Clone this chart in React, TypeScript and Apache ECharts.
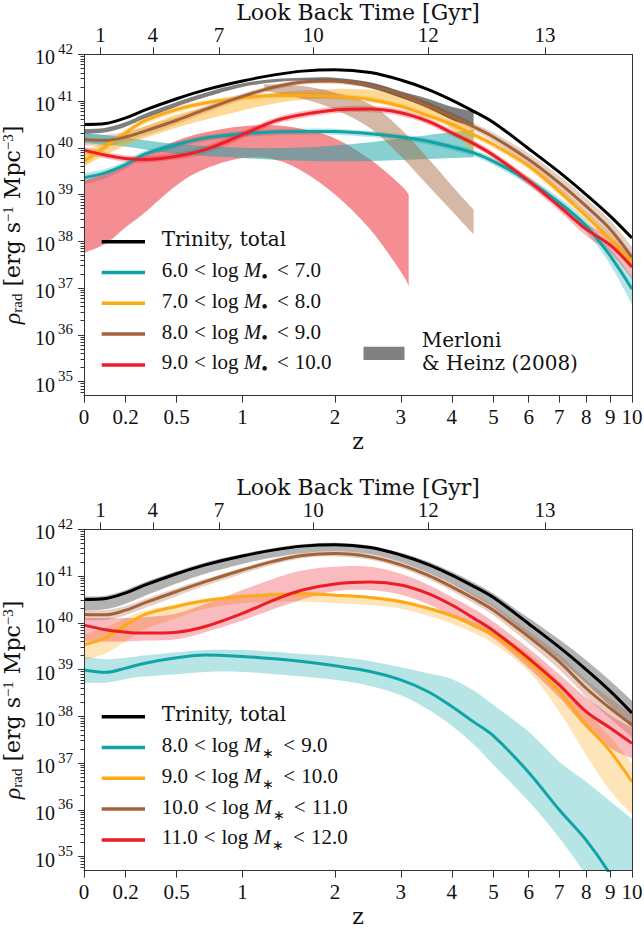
import React, { useEffect, useRef } from 'react';
import * as echarts from 'echarts';

// ---------- axis ticks ----------
const X_TICKS = [0, 0.2, 0.5, 1, 2, 3, 4, 5, 6, 7, 8, 9, 10];
const X_TICK_LABELS = ['0', '0.2', '0.5', '1', '2', '3', '4', '5', '6', '7', '8', '9', '10'];
const LBT_Z = [0.075, 0.351, 0.805, 1.728, 3.51, 6.52];
const LBT_LABELS = ['1', '4', '7', '10', '12', '13'];
const Y_DECADES = [35, 36, 37, 38, 39, 40, 41, 42];

// ---------- data: log10(rho_rad) ----------
const Z = [0, 0.1, 0.2, 0.3, 0.5, 0.7, 1, 1.3, 1.6, 2, 2.5, 3, 3.5, 4, 4.5, 5, 6, 7, 8, 9, 10];

const TOTAL = [40.50, 40.52, 40.64, 40.80, 41.05, 41.24, 41.43, 41.56, 41.64, 41.67, 41.61, 41.45, 41.25, 41.02, 40.78, 40.54, 39.98, 39.48, 39.00, 38.54, 38.07];
const TOTAL_LO = [40.27, 40.29, 40.41, 40.57, 40.84, 41.05, 41.26, 41.40, 41.49, 41.53, 41.47, 41.30, 41.08, 40.84, 40.58, 40.33, 39.74, 39.22, 38.70, 38.22, 37.75];
const TOTAL_HI = [40.56, 40.58, 40.70, 40.86, 41.10, 41.29, 41.47, 41.60, 41.68, 41.71, 41.65, 41.50, 41.31, 41.09, 40.86, 40.62, 40.10, 39.64, 39.20, 38.76, 38.33];

// top panel: black hole mass bins
const BH6 = [39.36, 39.47, 39.64, 39.86, 40.07, 40.21, 40.30, 40.34, 40.35, 40.35, 40.30, 40.23, 40.14, 40.02, 39.89, 39.71, 39.29, 38.83, 38.33, 37.69, 36.98];
const BH6_LO = [39.22, 39.35, 39.55, 39.78, 40.00, 40.14, 40.23, 40.27, 40.28, 40.28, 40.23, 40.16, 40.07, 39.95, 39.82, 39.63, 39.20, 38.73, 38.20, 37.50, 36.65];
const BH6_HI = [39.45, 39.55, 39.72, 39.93, 40.13, 40.27, 40.36, 40.40, 40.41, 40.41, 40.36, 40.29, 40.20, 40.08, 39.96, 39.78, 39.37, 38.93, 38.45, 37.85, 37.25];

const BH7 = [39.71, 40.03, 40.32, 40.57, 40.82, 40.96, 41.07, 41.12, 41.12, 41.10, 41.03, 40.89, 40.69, 40.50, 40.28, 40.07, 39.61, 39.07, 38.54, 38.04, 37.55];
const BH7_LO = [39.62, 39.95, 40.25, 40.50, 40.75, 40.90, 41.01, 41.06, 41.06, 41.04, 40.97, 40.83, 40.63, 40.43, 40.21, 40.00, 39.53, 38.98, 38.44, 37.92, 37.40];
const BH7_HI = [39.80, 40.11, 40.39, 40.64, 40.88, 41.02, 41.13, 41.18, 41.18, 41.16, 41.09, 40.95, 40.75, 40.57, 40.35, 40.14, 39.69, 39.16, 38.64, 38.18, 37.72];

const BH8 = [40.18, 40.16, 40.23, 40.35, 40.59, 40.82, 41.10, 41.30, 41.41, 41.43, 41.33, 41.14, 40.90, 40.67, 40.45, 40.23, 39.75, 39.25, 38.75, 38.26, 37.66];
const BH8_LO = [40.05, 40.05, 40.12, 40.25, 40.50, 40.74, 41.03, 41.24, 41.35, 41.37, 41.27, 41.07, 40.83, 40.60, 40.37, 40.14, 39.63, 39.10, 38.58, 38.05, 37.45];
const BH8_HI = [40.30, 40.28, 40.33, 40.45, 40.67, 40.89, 41.16, 41.35, 41.46, 41.48, 41.39, 41.20, 40.97, 40.75, 40.53, 40.32, 39.88, 39.40, 38.92, 38.45, 37.88];

const BH9 = [39.95, 39.84, 39.77, 39.75, 39.82, 39.96, 40.28, 40.57, 40.71, 40.81, 40.83, 40.75, 40.57, 40.32, 40.09, 39.84, 39.29, 38.75, 38.26, 37.92, 37.45];
const BH9_LO = [39.88, 39.77, 39.70, 39.68, 39.75, 39.88, 40.20, 40.50, 40.64, 40.74, 40.76, 40.68, 40.50, 40.25, 40.02, 39.77, 39.20, 38.65, 38.12, 37.75, 37.20];
const BH9_HI = [40.02, 39.91, 39.84, 39.82, 39.90, 40.04, 40.36, 40.64, 40.78, 40.88, 40.90, 40.82, 40.64, 40.39, 40.16, 39.91, 39.38, 38.85, 38.38, 38.08, 37.65];

// Merloni & Heinz (2008) bands
const MH_TOT_Z = [0, 0.1, 0.2, 0.3, 0.5, 0.7, 1, 1.3, 1.6, 2, 2.5, 3, 3.5, 4, 4.5];
const MH_TOT_LO = [40.30, 40.33, 40.45, 40.62, 40.88, 41.08, 41.30, 41.40, 41.44, 41.40, 41.28, 41.07, 40.85, 40.60, 40.45];
const MH_TOT_HI = [40.40, 40.43, 40.55, 40.72, 40.98, 41.18, 41.38, 41.47, 41.50, 41.50, 41.40, 41.21, 41.05, 40.88, 40.78];

const MH_BH6_Z = [0, 0.2, 0.5, 1, 1.5, 2, 2.5, 3, 3.5, 4, 4.5];
const MH_BH6_LO = [40.10, 40.02, 39.87, 39.78, 39.73, 39.71, 39.72, 39.74, 39.76, 39.78, 39.80];
const MH_BH6_HI = [40.32, 40.22, 40.08, 40.00, 40.00, 40.05, 40.12, 40.20, 40.27, 40.33, 40.39];

const MH_BH7_Z = [0, 0.1, 0.2, 0.3, 0.5, 0.7, 1, 1.3, 1.6, 2, 2.5, 3, 3.5, 4, 4.5];
const MH_BH7_LO = [39.60, 39.85, 40.05, 40.20, 40.43, 40.60, 40.80, 40.95, 41.03, 41.06, 41.02, 40.92, 40.72, 40.40, 39.85];
const MH_BH7_HI = [39.95, 40.12, 40.30, 40.45, 40.71, 40.88, 41.05, 41.17, 41.23, 41.26, 41.24, 41.15, 40.98, 40.72, 40.42];

const MH_BH8_Z = [1.2, 1.6, 2, 2.5, 3, 3.5, 4, 4.5];
const MH_BH8_LO = [41.22, 41.05, 40.82, 40.42, 39.82, 39.20, 38.65, 38.15];
const MH_BH8_HI = [41.36, 41.32, 41.18, 40.93, 40.40, 39.78, 39.19, 38.68];

const MH_BH9_Z = [0, 0.1, 0.2, 0.3, 0.5, 0.7, 1, 1.3, 1.6, 2, 2.5, 3, 3.14];
const MH_BH9_LO = [37.75, 37.95, 38.30, 38.60, 39.20, 39.55, 39.78, 39.75, 39.50, 39.00, 38.25, 37.35, 37.05];
const MH_BH9_HI = [39.30, 39.45, 39.65, 39.85, 40.15, 40.33, 40.46, 40.48, 40.40, 40.20, 39.75, 39.20, 39.00];

// bottom panel: stellar mass bins
const MS8 = [38.99, 38.94, 39.03, 39.13, 39.25, 39.31, 39.28, 39.23, 39.17, 39.08, 38.96, 38.78, 38.53, 38.21, 37.88, 37.58, 36.80, 36.00, 35.35, 34.62, 33.80];
const MS8_LO = [38.72, 38.72, 38.80, 38.85, 38.90, 38.95, 38.95, 38.90, 38.85, 38.78, 38.65, 38.45, 38.15, 37.80, 37.40, 36.96, 36.18, 35.40, 34.60, 33.80, 33.00];
const MS8_HI = [39.28, 39.22, 39.25, 39.30, 39.37, 39.42, 39.42, 39.38, 39.33, 39.28, 39.18, 39.05, 38.92, 38.80, 38.55, 38.24, 37.67, 37.03, 36.60, 36.18, 35.80];

const MS9 = [39.53, 39.68, 39.95, 40.17, 40.35, 40.47, 40.56, 40.60, 40.62, 40.59, 40.54, 40.45, 40.31, 40.15, 39.95, 39.74, 39.17, 38.53, 37.82, 37.25, 36.60];
const MS9_LO = [39.20, 39.35, 39.60, 39.85, 40.10, 40.30, 40.42, 40.45, 40.45, 40.42, 40.38, 40.30, 40.15, 39.98, 39.78, 39.55, 38.96, 38.10, 37.17, 36.40, 35.90];
const MS9_HI = [39.75, 39.90, 40.10, 40.25, 40.40, 40.52, 40.60, 40.63, 40.65, 40.62, 40.58, 40.50, 40.36, 40.20, 40.02, 39.82, 39.35, 38.74, 38.10, 37.55, 37.00];

const MS10 = [40.18, 40.17, 40.27, 40.42, 40.67, 40.88, 41.13, 41.32, 41.44, 41.48, 41.41, 41.24, 41.02, 40.77, 40.52, 40.27, 39.70, 39.17, 38.60, 38.17, 37.82];
const MS10_LO = [40.06, 40.06, 40.16, 40.31, 40.57, 40.79, 41.05, 41.25, 41.38, 41.42, 41.35, 41.17, 40.94, 40.68, 40.42, 40.16, 39.56, 39.00, 38.42, 37.95, 37.55];
const MS10_HI = [40.28, 40.27, 40.36, 40.50, 40.74, 40.94, 41.18, 41.37, 41.49, 41.53, 41.47, 41.30, 41.09, 40.85, 40.61, 40.37, 39.82, 39.32, 38.78, 38.38, 38.05];

const MS11 = [39.95, 39.85, 39.80, 39.78, 39.80, 39.92, 40.20, 40.49, 40.70, 40.83, 40.87, 40.81, 40.63, 40.38, 40.10, 39.83, 39.24, 38.67, 38.10, 37.75, 37.42];
const MS11_LO = [39.60, 39.60, 39.60, 39.62, 39.65, 39.80, 40.05, 40.30, 40.50, 40.68, 40.70, 40.60, 40.40, 40.15, 39.90, 39.67, 39.03, 38.40, 37.75, 37.32, 37.10];
const MS11_HI = [40.10, 40.10, 40.10, 40.12, 40.20, 40.40, 40.70, 40.95, 41.12, 41.20, 41.20, 41.05, 40.82, 40.55, 40.30, 40.02, 39.45, 38.90, 38.40, 38.03, 37.75];

// ---------- style ----------
const FONT = "'DejaVu Serif', serif";
const MFONT = "'Liberation Serif', 'Times New Roman', serif";
const TXT = '#111111';
const AX = '#333333';
const C_BLACK = '#000000';
const C_TEAL = '#10a4a7';
const C_ORANGE = '#fdaa16';
const C_BROWN = '#a4623a';
const C_RED = '#eb1d27';

const lx = (z: number) => Math.log10(1 + z);
const XMAX = lx(10);
const YMIN = Math.log10(5e34);
const YMAX = 42;
const GRID_TOP = [54.3, 529.3];
const GRID_LEFT = 84;
const GRID_W = 548;
const GRID_H = 341.3;

const MINOR: number[] = [];
for (let n = 34; n < 42; n++) {
  for (let k = 2; k <= 9; k++) {
    const v = n + Math.log10(k);
    if (v > YMIN && v < YMAX) MINOR.push(v);
  }
}

// smooth band outline shape (Catmull-Rom through the screen points)
function curveThrough(ctx: any, pts: number[][]) {
  const t = 1 / 6;
  for (let i = 0; i < pts.length - 1; i++) {
    const p0 = pts[i - 1] || pts[i];
    const p1 = pts[i];
    const p2 = pts[i + 1];
    const p3 = pts[i + 2] || p2;
    ctx.bezierCurveTo(
      p1[0] + (p2[0] - p0[0]) * t, p1[1] + (p2[1] - p0[1]) * t,
      p2[0] - (p3[0] - p1[0]) * t, p2[1] - (p3[1] - p1[1]) * t,
      p2[0], p2[1],
    );
  }
}
const BandShape = (echarts as any).graphic.extendShape({
  shape: { up: [], dn: [] },
  buildPath(ctx: any, shape: any) {
    const up = shape.up;
    const dn = shape.dn;
    if (!up || !up.length) return;
    ctx.moveTo(up[0][0], up[0][1]);
    curveThrough(ctx, up);
    ctx.lineTo(dn[0][0], dn[0][1]);
    curveThrough(ctx, dn);
    ctx.closePath();
  },
});
(echarts as any).graphic.registerShape('bandShape', BandShape);

function nearestLabel(v: number, vals: number[], labels: string[]) {
  let best = 0;
  let bd = Infinity;
  vals.forEach((t, i) => {
    const d = Math.abs(lx(t) - v);
    if (d < bd) { bd = d; best = i; }
  });
  return labels[best];
}

function lineS(p: number, zs: number[], ys: number[], color: string, zz: number) {
  return {
    type: 'line', xAxisIndex: p * 2, yAxisIndex: p * 3,
    data: zs.map((z, i) => [lx(z), ys[i]]),
    smooth: 0.35, symbol: 'none', silent: true, z: zz,
    lineStyle: { color, width: 3 },
  };
}

function bandS(p: number, zs: number[], lo: number[], hi: number[], color: string, op: number, zz: number) {
  return {
    type: 'custom', xAxisIndex: p * 2, yAxisIndex: p * 3, clip: true, silent: true, z: zz,
    data: [[lx(zs[0]), lo[0]]],
    renderItem: (_params: any, api: any) => {
      const up = zs.map((z, i) => api.coord([lx(z), hi[i]]));
      const dn = zs.map((z, i) => api.coord([lx(z), lo[i]])).reverse();
      return {
        type: 'bandShape',
        shape: { up, dn },
        style: { fill: color, opacity: op, stroke: 'none' },
      };
    },
  };
}

const tickLine = { color: AX, width: 1 };

function xAxes(p: number) {
  return [
    {
      gridIndex: p, type: 'value', position: 'bottom', min: 0, max: XMAX, z: 10,
      axisLine: { show: true, onZero: false, lineStyle: tickLine },
      axisTick: { show: true, customValues: X_TICKS.map(lx), length: 7, lineStyle: tickLine },
      axisLabel: {
        show: true, customValues: X_TICKS.map(lx), margin: 11,
        formatter: (v: number) => nearestLabel(v, X_TICKS, X_TICK_LABELS),
        fontFamily: MFONT, fontSize: 21, color: TXT,
      },
      splitLine: { show: false },
      name: 'z', nameLocation: 'middle', nameGap: 35,
      nameTextStyle: { fontFamily: FONT, fontSize: 22, color: TXT },
    },
    {
      gridIndex: p, type: 'value', position: 'top', min: 0, max: XMAX, z: 10,
      axisLine: { show: true, onZero: false, lineStyle: tickLine },
      axisTick: { show: true, customValues: LBT_Z.map(lx), length: 7, lineStyle: tickLine },
      axisLabel: {
        show: true, customValues: LBT_Z.map(lx), margin: 9,
        formatter: (v: number) => nearestLabel(v, LBT_Z, LBT_LABELS),
        fontFamily: MFONT, fontSize: 21, color: TXT,
      },
      splitLine: { show: false },
      name: 'Look Back Time [Gyr]', nameLocation: 'middle', nameGap: 31,
      nameTextStyle: { fontFamily: FONT, fontSize: 22, lineHeight: 22, color: TXT },
    },
  ];
}

function yAxes(p: number) {
  return [
    {
      gridIndex: p, type: 'value', position: 'left', min: YMIN, max: YMAX, z: 10,
      axisLine: { show: true, onZero: false, lineStyle: tickLine },
      axisTick: { show: true, customValues: Y_DECADES, length: 6, lineStyle: tickLine },
      axisLabel: {
        show: true, customValues: Y_DECADES, margin: 11,
        formatter: (v: number) => `{b|10}{e|${Math.round(v)}}`,
        rich: {
          b: { fontFamily: MFONT, fontSize: 20, lineHeight: 26, verticalAlign: 'bottom', color: TXT },
          e: { fontFamily: MFONT, fontSize: 15, lineHeight: 15, verticalAlign: 'top', color: TXT, padding: [0, 0, 0, 3] },
        },
      },
      splitLine: { show: false },
      name: '{r|ρ}{sub|rad}{n| [erg s}{sup|−1}{n| Mpc}{sup|−3}{n|]}',
      nameLocation: 'middle', nameGap: 45, nameRotate: 90,
      nameTextStyle: {
        fontFamily: FONT, fontSize: 22, color: TXT,
        rich: {
          r: { fontFamily: MFONT, fontSize: 24, fontStyle: 'italic', lineHeight: 24, verticalAlign: 'middle', color: TXT },
          sub: { fontFamily: MFONT, fontSize: 15, lineHeight: 15, verticalAlign: 'bottom', color: TXT },
          n: { fontFamily: FONT, fontSize: 22, lineHeight: 24, verticalAlign: 'middle', color: TXT },
          sup: { fontFamily: MFONT, fontSize: 15, lineHeight: 15, verticalAlign: 'top', color: TXT },
        },
      },
    },
    {
      gridIndex: p, type: 'value', position: 'left', min: YMIN, max: YMAX, z: 10,
      axisLine: { show: false },
      axisTick: { show: true, customValues: MINOR, length: 3.5, lineStyle: tickLine },
      axisLabel: { show: false },
      splitLine: { show: false },
    },
    {
      gridIndex: p, type: 'value', position: 'right', min: YMIN, max: YMAX, z: 10,
      axisLine: { show: true, onZero: false, lineStyle: tickLine },
      axisTick: { show: false },
      axisLabel: { show: false },
      splitLine: { show: false },
    },
  ];
}

const LEG_RICH = {
  t: { fontFamily: FONT, fontSize: 20, lineHeight: 26, verticalAlign: 'top', fill: TXT },
  n: { fontFamily: MFONT, fontSize: 21, lineHeight: 26, verticalAlign: 'top', fill: TXT },
  lt: { fontFamily: MFONT, fontSize: 21, lineHeight: 26, verticalAlign: 'top', fill: TXT, padding: [0, 6, 0, 6] },
  i: { fontFamily: MFONT, fontSize: 21, fontStyle: 'italic', lineHeight: 26, verticalAlign: 'top', fill: TXT },
  s: { fontFamily: MFONT, fontSize: 19, lineHeight: 14, verticalAlign: 'bottom', fill: TXT, padding: [0, 3, 0, 0] },
  a: { fontFamily: MFONT, fontSize: 14, lineHeight: 12, verticalAlign: 'bottom', fill: TXT, padding: [0, 3, 0, 1] },
};

const TOP_LEGEND = [
  { color: C_BLACK, text: '{t|Trinity, total}' },
  { color: C_TEAL, text: '{n|6.0}{lt|<}{n|log }{i|M}{s|•}{lt|<}{n|7.0}' },
  { color: C_ORANGE, text: '{n|7.0}{lt|<}{n|log }{i|M}{s|•}{lt|<}{n|8.0}' },
  { color: C_BROWN, text: '{n|8.0}{lt|<}{n|log }{i|M}{s|•}{lt|<}{n|9.0}' },
  { color: C_RED, text: '{n|9.0}{lt|<}{n|log }{i|M}{s|•}{lt|<}{n|10.0}' },
];
const BOT_LEGEND = [
  { color: C_BLACK, text: '{t|Trinity, total}' },
  { color: C_TEAL, text: '{n|8.0}{lt|<}{n|log }{i|M}{a|∗}{lt|<}{n|9.0}' },
  { color: C_ORANGE, text: '{n|9.0}{lt|<}{n|log }{i|M}{a|∗}{lt|<}{n|10.0}' },
  { color: C_BROWN, text: '{n|10.0}{lt|<}{n|log }{i|M}{a|∗}{lt|<}{n|11.0}' },
  { color: C_RED, text: '{n|11.0}{lt|<}{n|log }{i|M}{a|∗}{lt|<}{n|12.0}' },
];

function legendGraphic(p: number, entries: { color: string; text: string }[]) {
  const y0 = GRID_TOP[p] + 187.4;
  const out: any[] = [];
  entries.forEach((e, i) => {
    const y = y0 + i * 30.8;
    out.push({
      type: 'line', z: 50, silent: true,
      shape: { x1: 101.7, y1: y, x2: 145, y2: y },
      style: { stroke: e.color, lineWidth: 3.5 },
    });
    out.push({
      type: 'text', z: 50, silent: true, x: 161.7, y,
      style: { text: e.text, rich: LEG_RICH, fill: TXT, fontFamily: FONT, fontSize: 20, align: 'left', verticalAlign: 'middle' },
    });
  });
  return out;
}

function buildOption() {
  const series: any[] = [
    // top panel: Trinity bands
    bandS(0, Z, BH6_LO, BH6_HI, C_TEAL, 0.3, 2),
    bandS(0, Z, BH7_LO, BH7_HI, C_ORANGE, 0.3, 2),
    bandS(0, Z, BH8_LO, BH8_HI, C_BROWN, 0.3, 2),
    bandS(0, Z, BH9_LO, BH9_HI, C_RED, 0.3, 2),
    // top panel: Merloni & Heinz bands
    bandS(0, MH_BH9_Z, MH_BH9_LO, MH_BH9_HI, C_RED, 0.5, 3),
    bandS(0, MH_BH6_Z, MH_BH6_LO, MH_BH6_HI, C_TEAL, 0.5, 3),
    bandS(0, MH_BH7_Z, MH_BH7_LO, MH_BH7_HI, C_ORANGE, 0.45, 3),
    bandS(0, MH_BH8_Z, MH_BH8_LO, MH_BH8_HI, C_BROWN, 0.45, 3),
    bandS(0, MH_TOT_Z, MH_TOT_LO, MH_TOT_HI, '#000000', 0.5, 3),
    // top panel: lines
    lineS(0, Z, BH6, C_TEAL, 5),
    lineS(0, Z, BH7, C_ORANGE, 5),
    lineS(0, Z, BH8, C_BROWN, 5),
    lineS(0, Z, BH9, C_RED, 5),
    lineS(0, Z, TOTAL, C_BLACK, 6),
    // bottom panel: bands
    bandS(1, Z, TOTAL_LO, TOTAL_HI, '#000000', 0.3, 2),
    bandS(1, Z, MS8_LO, MS8_HI, C_TEAL, 0.3, 2),
    bandS(1, Z, MS9_LO, MS9_HI, C_ORANGE, 0.3, 2),
    bandS(1, Z, MS10_LO, MS10_HI, C_BROWN, 0.3, 2),
    bandS(1, Z, MS11_LO, MS11_HI, C_RED, 0.3, 2),
    // bottom panel: lines
    lineS(1, Z, MS8, C_TEAL, 5),
    lineS(1, Z, MS9, C_ORANGE, 5),
    lineS(1, Z, MS10, C_BROWN, 5),
    lineS(1, Z, MS11, C_RED, 5),
    lineS(1, Z, TOTAL, C_BLACK, 6),
  ];

  const graphic: any[] = [
    ...legendGraphic(0, TOP_LEGEND),
    ...legendGraphic(1, BOT_LEGEND),
    {
      type: 'rect', z: 50, silent: true,
      shape: { x: 363.5, y: 346.7, width: 41, height: 13.3 },
      style: { fill: '#808080' },
    },
    {
      type: 'text', z: 50, silent: true, x: 421.8, y: 351.7,
      style: {
        text: 'Merloni\n& Heinz (2008)', fill: TXT, fontFamily: FONT, fontSize: 20,
        lineHeight: 23.3, align: 'left', verticalAlign: 'middle',
      },
    },
  ];

  return {
    animation: false,
    backgroundColor: '#ffffff',
    grid: GRID_TOP.map((t) => ({
      left: GRID_LEFT, top: t, width: GRID_W, height: GRID_H,
      containLabel: false, outerBoundsMode: 'none',
    })),
    xAxis: [...xAxes(0), ...xAxes(1)],
    yAxis: [...yAxes(0), ...yAxes(1)],
    series,
    graphic,
  };
}

export default function App() {
  const ref = useRef<HTMLDivElement>(null);
  useEffect(() => {
    if (!ref.current) return;
    const chart = echarts.init(ref.current, undefined, { renderer: 'svg' });
    chart.setOption(buildOption() as any);
    return () => chart.dispose();
  }, []);
  return (
    <div
      ref={ref}
      style={{ position: 'fixed', left: 0, top: 0, width: 644, height: 929, background: '#fff' }}
    />
  );
}
